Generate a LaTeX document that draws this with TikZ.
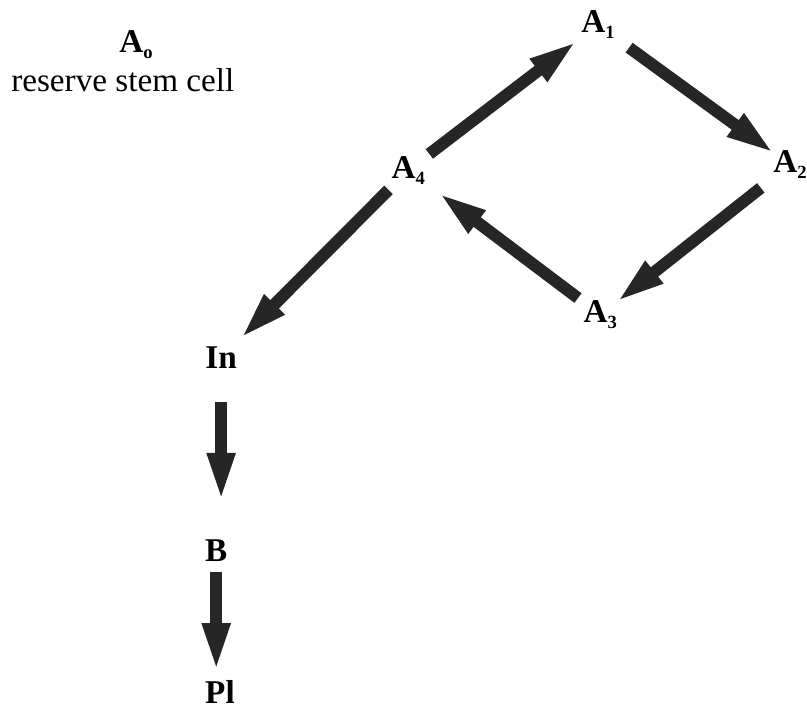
\documentclass[tikz,border=0pt]{standalone}
\usepackage{fontspec}
\setmainfont{Liberation Serif}
\usetikzlibrary{arrows.meta}
\newcommand{\cellA}[1]{\textbf{A}\raisebox{-.4ex}{\fontsize{14}{14}\selectfont\textbf{#1}}}
\begin{document}
\begin{tikzpicture}[font=\fontsize{25}{30}\selectfont,
    lbl/.style={font=\fontsize{25}{30}\selectfont\bfseries},
    arr/.style={line width=9pt,black!85,-{Triangle[length=37pt,width=19pt]}}]
  \useasboundingbox (0,0) rectangle (21.35,18.81);
  \node[lbl] (A0) at (3.60,17.62) {\cellA{o}};
  \node (rsc) at (3.25,16.70) {reserve stem cell};
  \node[lbl] (A1) at (15.82,18.15) {\cellA{1}};
  \node[lbl] (A2) at (20.90,14.45) {\cellA{2}};
  \node[lbl] (A3) at (15.88,10.48) {\cellA{3}};
  \node[lbl] (A4) at (10.80,14.31) {\cellA{4}};
  \node[lbl] (In) at (5.85,9.34) {In};
  \node[lbl] (B) at (5.72,4.23) {B};
  \node[lbl] (Pl) at (5.82,0.50) {Pl};
  % cycle
  \draw[arr,shorten <=20pt,shorten >=19.5pt] (A4.center)--(A1.center);
  \draw[arr,shorten <=29pt,shorten >=14pt] (A1.center)--(A2.center);
  \draw[arr,shorten <=28pt,shorten >=15pt] (A2.center)--(A3.center);
  \draw[arr,shorten <=21pt,shorten >=28pt] (A3.center)--(A4.center);
  % lineage
  \draw[arr,shorten <=21pt,shorten >=20pt] (A4.center)--(In.center);
  \draw[arr,shorten <=33pt,shorten >=37pt] (In.center)--(In.center|-B.center);
  \draw[arr,shorten <=16pt,shorten >=15pt] (B.center)--(B.center|-Pl.center);
\end{tikzpicture}
\end{document}
